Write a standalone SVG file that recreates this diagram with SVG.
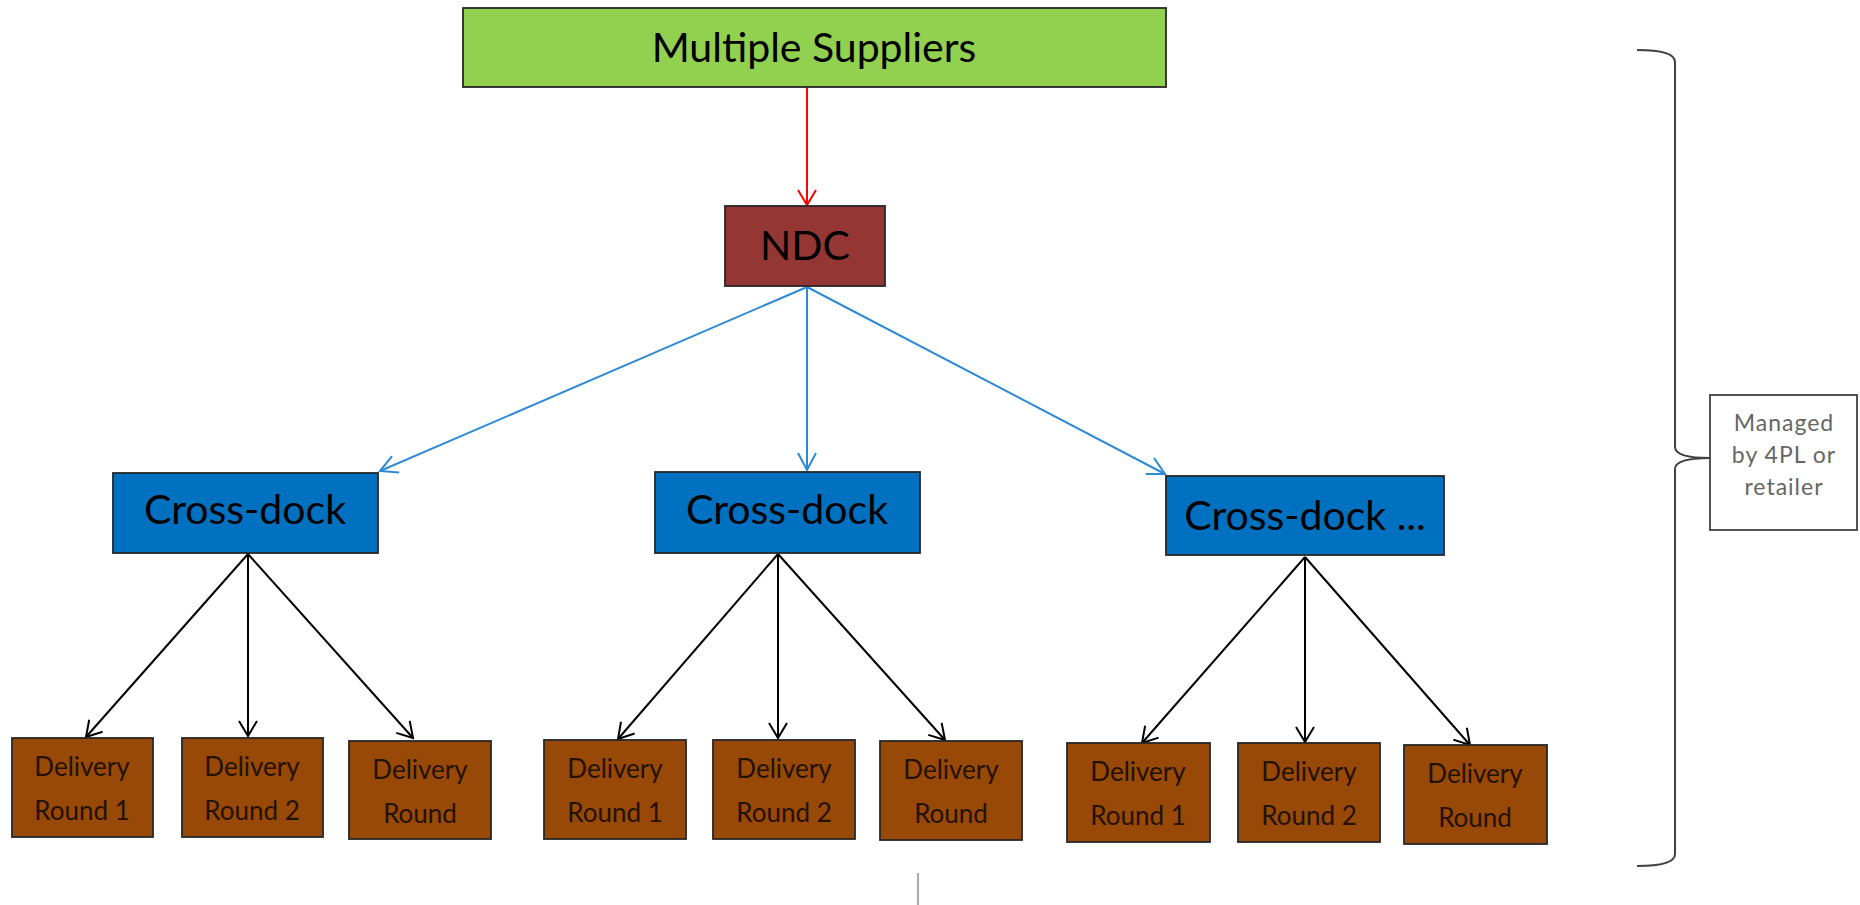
<svg xmlns="http://www.w3.org/2000/svg" width="1860" height="905" viewBox="0 0 1860 905">
<style>
  .box { stroke: #262626; stroke-width: 1.8; }
  .sup { fill: #92D050; }
  .ndc { fill: #943634; }
  .cd { fill: #0070C0; }
  .dr { fill: #984807; }
  .t { font-family: Lato, "Liberation Sans", sans-serif; text-anchor: middle; fill: #000; }
  .big { font-size: 41px; }
  .small { font-size: 26px; fill: #231200; }
  .note { font-size: 23px; fill: #666; letter-spacing: 1px; }
  .blk { stroke: #000; stroke-width: 2; fill: none; marker-end: url(#ab); }
  .blu { stroke: #2E8AD6; stroke-width: 2; fill: none; marker-end: url(#au); }
  .red { stroke: #FF0000; stroke-width: 2; fill: none; marker-end: url(#ar); }
</style>
<defs>
  <marker id="ab" markerUnits="userSpaceOnUse" viewBox="0 0 18 22" markerWidth="18" markerHeight="22" refX="16" refY="11" orient="auto">
    <path d="M1,2 L16,11 L1,20" fill="none" stroke="#000" stroke-width="2"/>
  </marker>
  <marker id="au" markerUnits="userSpaceOnUse" viewBox="0 0 20 22" markerWidth="20" markerHeight="22" refX="18" refY="11" orient="auto">
    <path d="M1,2 L18,11 L1,20" fill="none" stroke="#2E8AD6" stroke-width="2"/>
  </marker>
  <marker id="ar" markerUnits="userSpaceOnUse" viewBox="0 0 18 22" markerWidth="18" markerHeight="22" refX="16" refY="11" orient="auto">
    <path d="M1,2 L16,11 L1,20" fill="none" stroke="#FF0000" stroke-width="2"/>
  </marker>
</defs>
<rect width="1860" height="905" fill="#fff"/>

<g id="connectors">
  <line class="red" x1="807" y1="87" x2="807" y2="205"/>
  <line class="blu" x1="807" y1="287" x2="380" y2="471"/>
  <line class="blu" x1="807" y1="287" x2="807" y2="470"/>
  <line class="blu" x1="807" y1="287" x2="1165" y2="474"/>
  <line class="blk" x1="248" y1="554" x2="86" y2="737"/>
  <line class="blk" x1="248" y1="554" x2="248" y2="736"/>
  <line class="blk" x1="248" y1="554" x2="413" y2="738"/>
  <line class="blk" x1="778" y1="554" x2="618" y2="739"/>
  <line class="blk" x1="778" y1="554" x2="778" y2="738"/>
  <line class="blk" x1="778" y1="554" x2="945" y2="740"/>
  <line class="blk" x1="1305" y1="557" x2="1142" y2="743"/>
  <line class="blk" x1="1305" y1="557" x2="1305" y2="742"/>
  <line class="blk" x1="1305" y1="557" x2="1470" y2="745"/>
</g>

<g id="suppliers">
  <rect class="box sup" x="463" y="8" width="703" height="79"/>
  <text class="t big" x="814" y="62">Multiple Suppliers</text>
</g>
<g id="ndc">
  <rect class="box ndc" x="725" y="206" width="160" height="80"/>
  <text class="t big" x="805" y="260">NDC</text>
</g>

<g id="crossdock1">
  <rect class="box cd" x="113" y="473" width="265" height="80"/>
  <text class="t big" x="245" y="524">Cross-dock</text>
</g>
<g id="crossdock2">
  <rect class="box cd" x="655" y="472" width="265" height="81"/>
  <text class="t big" x="787" y="524">Cross-dock</text>
</g>
<g id="crossdock3">
  <rect class="box cd" x="1166" y="476" width="278" height="79"/>
  <text class="t big" x="1305" y="530">Cross-dock ...</text>
</g>

<g id="round1a">
  <rect class="box dr" x="12" y="738" width="141" height="99"/>
  <text class="t small" x="82" y="776">Delivery</text>
  <text class="t small" x="82" y="820">Round 1</text>
</g>
<g id="round2a">
  <rect class="box dr" x="182" y="738" width="141" height="99"/>
  <text class="t small" x="252" y="776">Delivery</text>
  <text class="t small" x="252" y="820">Round 2</text>
</g>
<g id="round3a">
  <rect class="box dr" x="349" y="741" width="142" height="98"/>
  <text class="t small" x="420" y="779">Delivery</text>
  <text class="t small" x="420" y="823">Round</text>
</g>

<g id="round1b">
  <rect class="box dr" x="544" y="740" width="142" height="99"/>
  <text class="t small" x="615" y="778">Delivery</text>
  <text class="t small" x="615" y="822">Round 1</text>
</g>
<g id="round2b">
  <rect class="box dr" x="713" y="740" width="142" height="99"/>
  <text class="t small" x="784" y="778">Delivery</text>
  <text class="t small" x="784" y="822">Round 2</text>
</g>
<g id="round3b">
  <rect class="box dr" x="880" y="741" width="142" height="99"/>
  <text class="t small" x="951" y="779">Delivery</text>
  <text class="t small" x="951" y="823">Round</text>
</g>

<g id="round1c">
  <rect class="box dr" x="1067" y="743" width="143" height="99"/>
  <text class="t small" x="1138" y="781">Delivery</text>
  <text class="t small" x="1138" y="825">Round 1</text>
</g>
<g id="round2c">
  <rect class="box dr" x="1238" y="743" width="142" height="99"/>
  <text class="t small" x="1309" y="781">Delivery</text>
  <text class="t small" x="1309" y="825">Round 2</text>
</g>
<g id="round3c">
  <rect class="box dr" x="1404" y="745" width="143" height="99"/>
  <text class="t small" x="1475" y="783">Delivery</text>
  <text class="t small" x="1475" y="827">Round</text>
</g>

<g id="brace">
  <path d="M1637,50 Q1675,50 1675,62 L1675,447 Q1675,458 1710,458 Q1675,458 1675,469 L1675,854 Q1675,866 1637,866" fill="none" stroke="#404040" stroke-width="2"/>
</g>
<g id="managed">
  <rect x="1710" y="395" width="147" height="135" fill="#fff" stroke="#404040" stroke-width="1.8"/>
  <text class="t note" x="1784" y="431">Managed</text>
  <text class="t note" x="1784" y="463">by 4PL or</text>
  <text class="t note" x="1784" y="495">retailer</text>
</g>

<line x1="918" y1="873" x2="918" y2="905" stroke="#aaa" stroke-width="2"/>
</svg>
